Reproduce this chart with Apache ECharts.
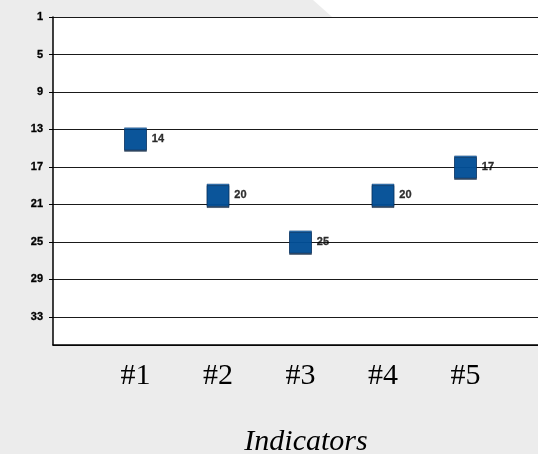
<!DOCTYPE html>
<html>
<head>
<meta charset="utf-8">
<script src="https://cdn.jsdelivr.net/npm/echarts@6/dist/echarts.min.js"></script>
<style>
  html, body { margin: 0; padding: 0; background: #ececec; }
  #chart { width: 538px; height: 454px; }
</style>
</head>
<body>
<div id="chart"></div>
<script>
// Indicator ranks (lower rank = higher on the chart)
const categories = ['#1', '#2', '#3', '#4', '#5'];
const ranks = [14, 20, 25, 20, 17];

// Rank axis scale
const rankMin = 1;
const rankMax = 36;
const rankStep = 4;

const axisNames = [''].concat(categories, ['']);
const points = categories.map((c, i) => [c, ranks[i]]);

const smallBold = {
  color: '#000',
  fontFamily: 'Liberation Sans',
  fontWeight: 'bold',
  fontSize: 11,
  textBorderColor: '#000',
  textBorderWidth: 0.3
};

const chart = echarts.init(document.getElementById('chart'), null, { renderer: 'canvas' });

chart.setOption({
  backgroundColor: '#ececec',
  animation: false,
  graphic: [{
    type: 'polygon',
    z: -10,
    silent: true,
    shape: { points: [[313, 0], [538, 0], [538, 200]] },
    style: { fill: '#ffffff' }
  }],
  grid: {
    left: 53,
    top: 17,
    bottom: 109,
    right: -10,
    outerBoundsMode: 'none',
    containLabel: false,
    show: true,
    backgroundColor: '#ffffff',
    borderWidth: 0
  },
  xAxis: {
    type: 'category',
    data: axisNames,
    boundaryGap: false,
    axisLine: { onZero: false, lineStyle: { color: '#000', width: 1.5 } },
    axisTick: { show: false },
    splitLine: { show: false },
    axisLabel: {
      margin: 16,
      color: '#000',
      fontFamily: 'Liberation Serif',
      fontSize: 30
    },
    name: 'Indicators',
    nameLocation: 'middle',
    nameGap: 82,
    nameTextStyle: {
      color: '#000',
      fontFamily: 'Liberation Serif',
      fontStyle: 'italic',
      fontSize: 30,
      padding: [0, 0, 0, 11]
    }
  },
  yAxis: {
    type: 'value',
    inverse: true,
    min: rankMin,
    max: rankMax,
    interval: rankStep,
    axisLine: { show: true, lineStyle: { color: '#000', width: 1.5 } },
    axisTick: { show: true, length: 4, lineStyle: { color: '#000' } },
    splitLine: { show: true, lineStyle: { color: '#1a1a1a', width: 1.2 } },
    axisLabel: Object.assign({ showMaxLabel: false, margin: 10 }, smallBold)
  },
  series: [{
    type: 'scatter',
    data: points,
    symbol: 'rect',
    symbolSize: 22,
    itemStyle: {
      color: '#0058a8',
      borderColor: '#0a3a70',
      borderWidth: 0.6,
      shadowColor: '#06203f',
      shadowOffsetY: 1.5,
      shadowBlur: 0
    },
    label: Object.assign({
      show: true,
      position: 'right',
      distance: 5,
      formatter: p => p.value[1]
    }, smallBold)
  }]
});
</script>
</body>
</html>
